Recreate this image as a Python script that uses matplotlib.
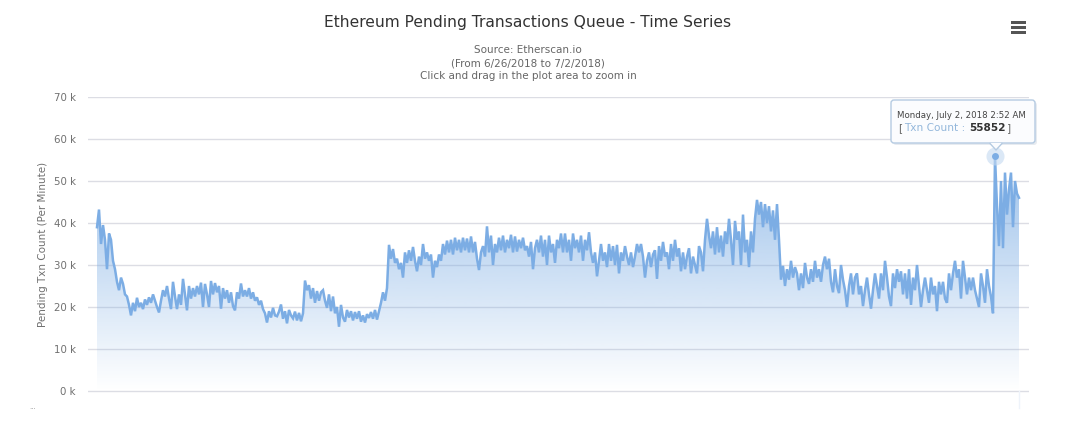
# Ethereum pending transactions queue (thousands, one every ~2 px)
import numpy as np
import matplotlib
matplotlib.use("Agg")
import matplotlib.pyplot as plt
from matplotlib.patches import FancyBboxPatch, Polygon, Rectangle

title = "Ethereum Pending Transactions Queue - Time Series"
subtitle = "Source: Etherscan.io\n(From 6/26/2018 to 7/2/2018)\nClick and drag in the plot area to zoom in"
y_label = "Pending Txn Count (Per Minute)"
y_ticks = [0, 10, 20, 30, 40, 50, 60, 70]
y_tick_labels = ["0 k", "10 k", "20 k", "30 k", "40 k", "50 k", "60 k", "70 k"]
tooltip_date = "Monday, July 2, 2018 2:52 AM"
tooltip_name = "Txn Count :"
tooltip_value = "55852"

# first drop, then the low 20s
part_1 = [39, 43.2, 35, 39.5, 36, 29, 37.5, 36, 31, 29, 26, 24, 27, 25.5, 23, 22.5, 20.5,
          18, 21, 19, 22.2, 20, 21, 19.5, 21.8, 20.5, 22.3, 21, 23, 21.5, 20, 18.7,
          21.5, 24, 22.5, 25, 22, 19.5, 26, 22.5, 19.5, 23, 20.5, 26.7, 23, 19.2, 25, 22, 24.5,
          22.5, 25, 23, 25.8, 20, 25.5, 23, 20, 26.2, 23, 25.7, 23.5, 25, 19.6, 24.5, 22, 24,
          21, 23.5, 20.2, 19.2, 23.5, 22, 25.6,
          22.5, 24, 22.5, 24.5, 22, 23.5, 21.5, 22.3, 20.5, 21.5, 19.5,
          18.5, 16.3, 19, 17.5, 19.8, 18, 17.8, 18.9, 20.6, 17.2, 19, 16.1, 19.3, 18, 17.3,
          18.9, 16.8, 18.6, 16.6, 18.5]
part_2 = [26.3, 24, 25.2, 22, 24.5, 21, 23.8, 21.5, 23.5, 24, 21.5, 19.8, 23, 19, 22.5, 18.5,
          20, 15.3, 20.5, 17.5,
          16.5, 19.3, 17.5, 19, 16.8, 18.8, 17.2, 19, 16.5, 18, 16.3, 18.3, 17.4, 18.8, 17.2,
          19.3, 17, 19,
          21, 23.5, 21.5, 24.5]
# jump to the long plateau in the 30s
part_3 = [34.8, 31.5, 33.8, 30.5, 31.5, 29, 30.5, 27, 33, 30.5, 33.5, 31, 34.3, 31, 28.5, 32,
          30, 35, 31.5, 33, 31, 32.5, 27, 31, 29.5, 32.5, 31, 35, 32.5, 35.8, 33, 36, 32.5,
          36.5, 33.5, 36, 33, 36.5, 33.5, 36.3, 33, 36.8, 33, 35.5, 31.5,
          28.8, 33, 34.5, 32, 39.2, 33, 37, 30, 35, 33, 36.5, 33.5, 37, 33, 36, 34, 37.2, 33,
          36.8, 33.2, 36, 34, 36.5, 33.5, 34.5, 32, 35.5, 29, 34, 36, 33, 37, 32, 36, 30, 37,
          33, 35, 30.5, 36, 34, 37.5, 33, 37.5, 33, 36, 31, 37.5, 34, 36, 33, 37, 31, 36,
          33.5,
          37.8, 33, 30.5, 33, 27.3, 31, 35, 31, 33, 29.5, 35, 31, 34.5, 30, 34.8, 28, 33, 31,
          34.5, 32, 30, 33, 29.5, 32, 35, 33, 35, 32, 27, 31, 33, 29.5, 32.5, 33.5, 26.7,
          34.5, 31, 35.5, 32, 33, 29, 35, 31, 36, 32, 34, 28.5, 33, 29, 32, 34, 28, 32, 30,
          28, 34.5, 33, 28.5]
# the bump up to 45k before the drop
part_4 = [36, 41, 37, 34, 38, 32.5, 39, 33, 37, 32, 38, 35, 41, 36, 30, 40.5, 36, 38, 30, 42,
          33, 36, 29.5, 38, 33, 41, 45.5, 42, 45, 39, 44.5, 40, 44, 38, 43, 36, 44.5, 36]
# noisy 20s
part_5 = [26.5, 29.8, 25, 29, 26.5, 31, 27, 29.5, 28, 24, 28, 24.5, 30.5, 27, 25.5, 29, 26, 31,
          27, 29, 26, 30, 32, 29, 31.5, 26, 23.5, 29, 25, 23.3, 30, 26.5, 24, 20, 25, 28, 23,
          27, 28, 23, 25, 20.2, 24, 27, 23, 19.6, 24, 28, 25, 22, 28, 24, 31, 27, 22.5, 20.2,
          28, 24.5, 29, 26, 28.5, 23, 28, 22, 29, 20.5, 27, 24, 30, 25, 20, 24, 27, 24, 21,
          27, 23, 25, 19, 26, 23, 26, 22, 21, 28, 24, 28, 31, 27, 29, 22, 31, 27, 23, 27, 24,
          27, 24, 22, 20, 28, 25, 21, 29, 25, 22.5, 18.5]
# spike on July 2
part_6 = [55.852, 44, 34.5, 50, 34, 52, 42, 48, 52, 39, 50, 47, 46]

txn_count = np.array(part_1 + part_2 + part_3 + part_4 + part_5 + part_6)
x = np.arange(len(txn_count))
peak = int(np.argmax(txn_count))

line_color = "#7cade4"
grid_color = "#dcdde4"

plt.rcParams["font.family"] = "DejaVu Sans"
fig = plt.figure(figsize=(10.8, 4.26), dpi=100)

# plot area: 88-1029 px across, y=0 at 391 px and 70k at 97 px, runs down to 408 px
ax = fig.add_axes([88 / 1080, (426 - 408) / 426, (1029 - 88) / 1080, (408 - 97) / 426])
for s in ax.spines.values():
    s.set_visible(False)
ax.set_xticks([])
ax.set_yticks(y_ticks)
ax.set_yticklabels(y_tick_labels, fontsize=7.4, color="#707070")
ax.tick_params(axis="y", length=0, pad=9)
ax.grid(axis="y", color=grid_color, linewidth=1)
ax.set_axisbelow(True)
ax.set_ylabel(y_label, fontsize=7.5, color="#707070")
ax.yaxis.set_label_coords(-0.043, 0.527)

# area under the line fades to white towards zero
grad = np.zeros((256, 1, 4))
grad[:, :, :3] = matplotlib.colors.to_rgb(line_color)
grad[:, 0, 3] = np.linspace(0.95, 0, 256)
img = ax.imshow(grad, extent=[x[0], x[-1], 0, 70], aspect="auto", origin="upper", zorder=1.5)
ax.set_xlim(-4.5, 466)
ax.set_ylim(-17 / 4.2, 70)
area = Polygon(np.column_stack([np.r_[x[0], x, x[-1]], np.r_[0, txn_count, 0]]),
               closed=True, transform=ax.transData, facecolor="none", edgecolor="none")
ax.add_patch(area)
img.set_clip_path(area)

ax.plot(x, txn_count, color=line_color, linewidth=1.8, solid_joinstyle="miter", zorder=3)
ax.plot([x[-1], x[-1]], [-17 / 4.2, 0], color="#eef3fa", linewidth=1, zorder=1, clip_on=False)
ax.plot(x[peak], txn_count[peak], "o", color="#c4d9f1", markersize=13, alpha=0.6, zorder=3.5, mec="none")
ax.plot(x[peak], txn_count[peak], "o", color=line_color, markersize=5, zorder=4, mec="none")

# overlay in pixel coordinates for the header, menu button and tooltip
over = fig.add_axes([0, 0, 1, 1], zorder=5)
over.set_xlim(0, 1080)
over.set_ylim(426, 0)
over.axis("off")
over.patch.set_alpha(0)

over.text(528, 23, title, ha="center", va="center", fontsize=11.2, color="#333333")
over.text(528, 63, subtitle, ha="center", va="center", fontsize=7.5, color="#666666", linespacing=1.35)
over.text(33, 407, "...", ha="center", va="center", fontsize=5, color="#999999")

for bar_y in [22, 27, 32]:
    over.add_patch(Rectangle((1011, bar_y - 1.5), 15, 3, color="#555555", lw=0))

over.add_patch(FancyBboxPatch((893, 102), 144, 43, boxstyle="round,pad=0,rounding_size=3",
                              facecolor="#c4cedb", edgecolor="none", alpha=0.4))
over.add_patch(FancyBboxPatch((891, 100), 144, 43, boxstyle="round,pad=0,rounding_size=3",
                              facecolor="#fbfcfe", edgecolor="#b5cbe2", linewidth=1))
over.add_patch(Polygon([[990, 143], [1002, 143], [996, 150]], closed=True, facecolor="#fbfcfe", edgecolor="none"))
over.plot([990, 996, 1002], [143.5, 150, 143.5], color="#b5cbe2", linewidth=1)
over.text(897, 115, tooltip_date, ha="left", va="center", fontsize=6.2, color="#444444")
over.text(898, 128, "[", ha="left", va="center", fontsize=7.6, color="#666666")
over.text(904, 128, tooltip_name, ha="left", va="center", fontsize=7.6, color="#93b7db")
over.text(969, 128, tooltip_value, ha="left", va="center", fontsize=7.6, color="#333333", fontweight="bold")
over.text(1007, 128, "]", ha="left", va="center", fontsize=7.6, color="#666666")

fig.savefig("out.png", dpi=100, facecolor="white")
